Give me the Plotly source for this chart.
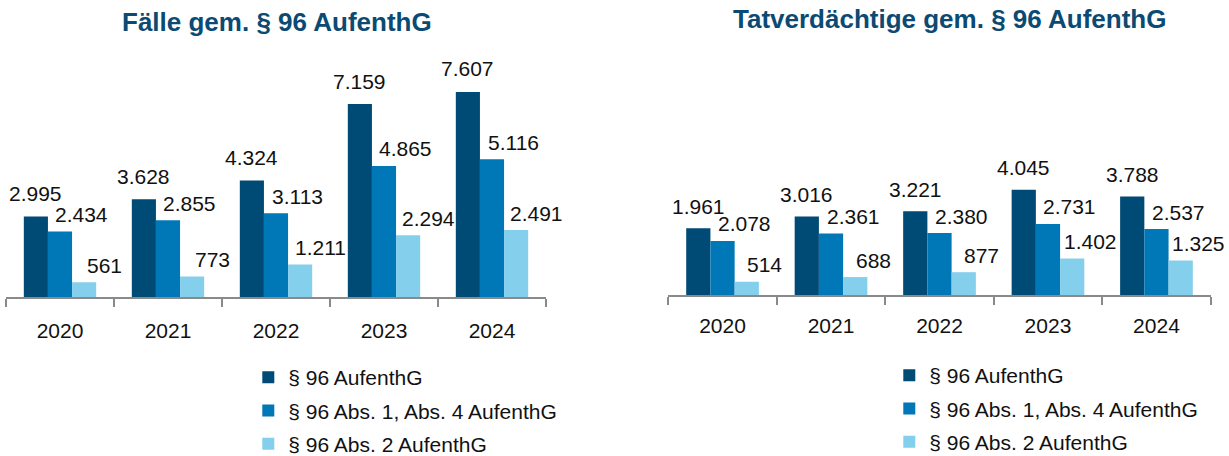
import plotly.graph_objects as go

# ---------------- data ----------------
years = ["2020", "2021", "2022", "2023", "2024"]
series_names = ["§ 96 AufenthG", "§ 96 Abs. 1, Abs. 4 AufenthG", "§ 96 Abs. 2 AufenthG"]

# Fälle gem. § 96 AufenthG
faelle_96 = [2995, 3628, 4324, 7159, 7607]
faelle_abs14 = [2434, 2855, 3113, 4865, 5116]
faelle_abs2 = [561, 773, 1211, 2294, 2491]

# Tatverdächtige gem. § 96 AufenthG
# (in the source the 2020 bar is drawn at about 2.565 while its label reads 1.961)
tv_96_bar = [2565, 3016, 3221, 4045, 3788]
tv_96_label = [1961, 3016, 3221, 4045, 3788]
tv_abs14 = [2078, 2361, 2380, 2731, 2537]
tv_abs2 = [514, 688, 877, 1402, 1325]

title_left = "Fälle gem. § 96 AufenthG"
title_right = "Tatverdächtige gem. § 96 AufenthG"

# ---------------- style ----------------
W, H = 1229, 456
colors = ["#004a76", "#0077b6", "#84cfec"]
title_color = "#0b4a73"
axis_color = "#8a8a8a"
FONT = "Liberation Sans, Arial, sans-serif"
BARGAP = 0.33


def px_x(p):
    """page pixel -> paper x"""
    return p / W


def px_y(p):
    """page pixel -> paper y"""
    return 1 - p / H


fig = go.Figure()

left_sets = [(faelle_96, faelle_96), (faelle_abs14, faelle_abs14), (faelle_abs2, faelle_abs2)]
right_sets = [(tv_96_bar, tv_96_label), (tv_abs14, tv_abs14), (tv_abs2, tv_abs2)]

for k, (vals, _) in enumerate(left_sets):
    fig.add_trace(go.Bar(
        x=years, y=vals, name=series_names[k], marker=dict(color=colors[k], line=dict(width=0)),
        xaxis="x", yaxis="y", legend="legend", legendgroup=f"l{k}", hoverinfo="skip"))
for k, (vals, _) in enumerate(right_sets):
    fig.add_trace(go.Bar(
        x=years, y=vals, name=series_names[k], marker=dict(color=colors[k], line=dict(width=0)),
        xaxis="x2", yaxis="y2", legend="legend2", legendgroup=f"r{k}", hoverinfo="skip"))

bw = (1 - BARGAP) / 3
annotations = []
for sets, xr, yr, dxs, dys in [(left_sets, "x", "y", [0, 21, 20], [23, 17, 17]),
                               (right_sets, "x2", "y2", [0, 22, 18], [22, 17, 17])]:
    for k, (vals, labels) in enumerate(sets):
        for i, (v, lab) in enumerate(zip(vals, labels)):
            annotations.append(dict(
                x=i + (k - 1) * bw, y=v, xref=xr, yref=yr,
                text=f"{lab:,}".replace(",", "."), showarrow=False,
                xanchor="center", yanchor="middle",
                xshift=dxs[k], yshift=dys[k],
                font=dict(family=FONT, size=21, color="#111111")))

annotations.append(dict(x=px_x(277), y=px_y(22), xref="paper", yref="paper", text=f"<b>{title_left}</b>",
                        showarrow=False, xanchor="center", yanchor="middle",
                        font=dict(family=FONT, size=26, color=title_color)))
annotations.append(dict(x=px_x(949), y=px_y(18.5), xref="paper", yref="paper", text=f"<b>{title_right}</b>",
                        showarrow=False, xanchor="center", yanchor="middle",
                        font=dict(family=FONT, size=26, color=title_color)))

xaxis_common = dict(
    type="category", range=[-0.5, len(years) - 0.5], autorange=False,
    showgrid=False, zeroline=False, showline=True, linecolor=axis_color, linewidth=2,
    ticks="outside", tickson="boundaries", ticklen=8, tickwidth=2, tickcolor=axis_color,
    tickfont=dict(family=FONT, size=21, color="#111111"), fixedrange=True)
yaxis_common = dict(visible=False, showgrid=False, zeroline=False, fixedrange=True, autorange=False)

left_bottom, left_top = 297.3, 60
right_bottom, right_top = 295, 60
left_scale = 0.0270   # px per case
right_scale = 0.0260

fig.update_layout(
    width=W, height=H,
    margin=dict(l=0, r=0, t=0, b=0, autoexpand=False),
    paper_bgcolor="white", plot_bgcolor="white",
    barmode="group", bargap=BARGAP, bargroupgap=0,
    font=dict(family=FONT, size=21, color="#111111"),
    xaxis=dict(domain=[px_x(6), px_x(546)], anchor="y", ticklabelstandoff=13, **xaxis_common),
    yaxis=dict(domain=[px_y(left_bottom), px_y(left_top)], anchor="x",
               range=[0, (left_bottom - left_top) / left_scale], **yaxis_common),
    xaxis2=dict(domain=[px_x(668.3), px_x(1210.7)], anchor="y2", ticklabelstandoff=11, **xaxis_common),
    yaxis2=dict(domain=[px_y(right_bottom), px_y(right_top)], anchor="x2",
                range=[0, (right_bottom - right_top) / right_scale], **yaxis_common),
    legend=dict(x=px_x(248.3), y=px_y(357), xanchor="left", yanchor="top",
                orientation="v", tracegroupgap=3, bgcolor="rgba(0,0,0,0)",
                font=dict(family=FONT, size=21, color="#111111")),
    legend2=dict(x=px_x(889.3), y=px_y(355), xanchor="left", yanchor="top",
                 orientation="v", tracegroupgap=3, bgcolor="rgba(0,0,0,0)",
                 font=dict(family=FONT, size=21, color="#111111")),
    annotations=annotations,
    showlegend=True,
)

# remove the browser's default 8px body margin so the figure fills the window exactly
fig.write_html("out.html", config={"displayModeBar": False},
               post_script="document.body.style.margin='0';")
